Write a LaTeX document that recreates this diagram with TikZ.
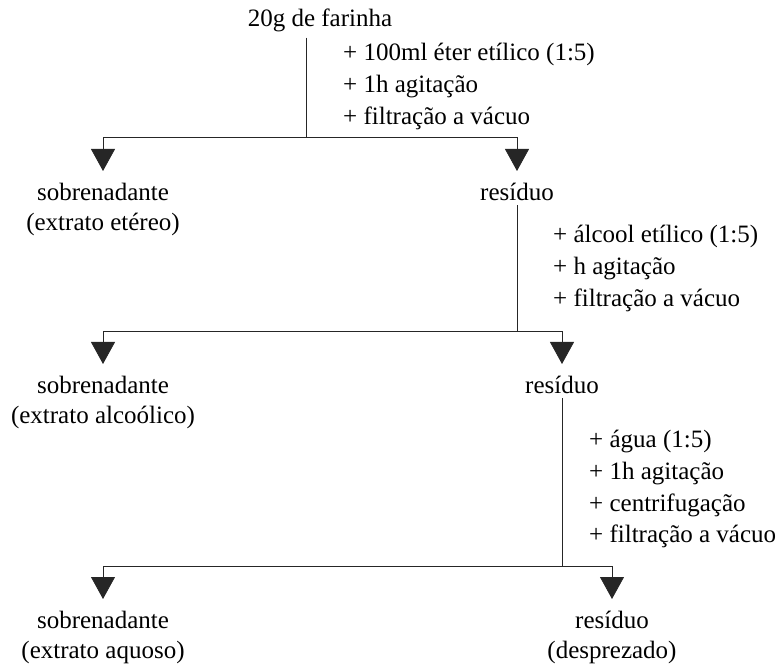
\documentclass[tikz,border=0pt]{standalone}
\usepackage{fontspec}
\setmainfont{Liberation Serif}
\usetikzlibrary{arrows.meta}
\colorlet{flow}{black!85}

\begin{document}
\begin{tikzpicture}[x=1pt, y=-1pt,
  every node/.style={inner sep=0pt, font=\fontsize{25}{30}\selectfont},
  result/.style={align=center, anchor=north},
  steps/.style={align=left, anchor=base west, font=\fontsize{25}{32}\selectfont},
  flowline/.style={draw=flow, line width=0.8pt},
  split/.style={flowline, -{Triangle[width=24pt,length=22pt]}, shorten >=12pt}]
\useasboundingbox (0,0) rectangle (780,668);
% junctions
\coordinate (jA) at (306,137);
\coordinate (jB) at (517,331);
\coordinate (jC) at (562,566);
% start
\node[anchor=base] (farinha) at (320,27) {20g de farinha};
\node[steps] (addEter) at (343,125) {+ 100ml éter etílico (1:5)\\+ 1h agitação\\+ filtração a vácuo};
% first extraction
\node[result] (sobEter) at (103,183) {sobrenadante\\(extrato etéreo)};
\node[result] (resEter) at (517,183) {resíduo};
\draw[flowline, shorten <=5pt] (farinha.south -| jA) -- (jA);
\draw[split] (jA) -| (sobEter.north);
\draw[split] (jA) -| (resEter.north);
% second extraction
\node[steps] (addAlc) at (553,307) {+ álcool etílico (1:5)\\+ h agitação\\+ filtração a vácuo};
\node[result] (sobAlc) at (103,376) {sobrenadante\\(extrato alcoólico)};
\node[result] (resAlc) at (562,376) {resíduo};
\draw[flowline, shorten <=4pt] (resEter.south -| jB) -- (jB);
\draw[split] (jB) -| (sobAlc.north);
\draw[split] (jB) -| (resAlc.north);
% third extraction
\node[steps] (addAgua) at (589,543) {+ água (1:5)\\+ 1h agitação\\+ centrifugação\\+ filtração a vácuo};
\node[result] (sobAgua) at (103,611) {sobrenadante\\(extrato aquoso)};
\node[result] (resAgua) at (612,611) {resíduo\\(desprezado)};
\draw[flowline, shorten <=4pt] (resAlc.south -| jC) -- (jC);
\draw[split] (jC) -| (sobAgua.north);
\draw[split] (jC) -| (resAgua.north);
\end{tikzpicture}
\end{document}
